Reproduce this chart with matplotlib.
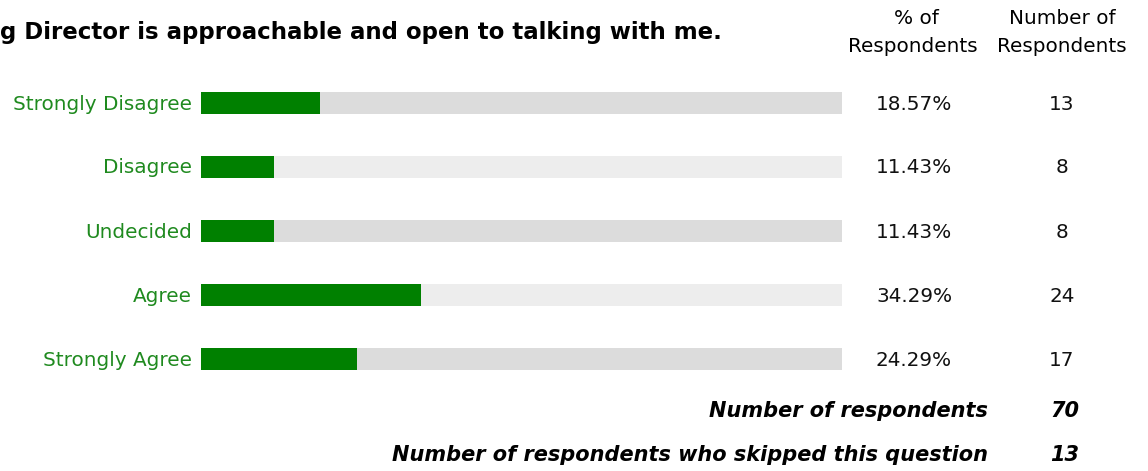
import matplotlib.pyplot as plt
import numpy as np

W, H = 1148, 471

categories = ["Strongly Disagree", "Disagree", "Undecided", "Agree", "Strongly Agree"]
percents = [18.57, 11.43, 11.43, 34.29, 24.29]
counts = [13, 8, 8, 24, 17]
total_respondents = 70
skipped = 13
title = "g Director is approachable and open to talking with me."

GREEN = "#008000"
LABEL_GREEN = "#1f8a1f"
BG_DARK = "#dcdcdc"
BG_LIGHT = "#ededed"


def fx(px):
    return px / W


def fy(py):
    return 1 - py / H


fig = plt.figure(figsize=(W / 100, H / 100), dpi=100)
plt.rcParams['font.family'] = ['DejaVu Sans']

# bar area: x 201..842 px, rows centred 103..359 px
ax = fig.add_axes([fx(201), fy(391), fx(842) - fx(201), fy(71) - fy(391)])
ypos = np.arange(len(categories))
bg_colors = [BG_DARK if i % 2 == 0 else BG_LIGHT for i in range(len(categories))]
ax.barh(ypos, [100] * len(categories), height=0.35, color=bg_colors, linewidth=0)
ax.barh(ypos, percents, height=0.35, color=GREEN, linewidth=0)
ax.set_xlim(0, 100)
ax.set_ylim(len(categories) - 0.5, -0.5)
ax.axis("off")

FS = 14.4
for i, (cat, p, c) in enumerate(zip(categories, percents, counts)):
    y = fy(104 + 64 * i)
    fig.text(fx(192), y, cat, ha="right", va="center", color=LABEL_GREEN, fontsize=FS)
    fig.text(fx(914), y, f"{p:.2f}%", ha="center", va="center", color="#111111", fontsize=FS)
    fig.text(fx(1062), y, str(c), ha="center", va="center", color="#111111", fontsize=FS)

# headers
fig.text(fx(0), fy(33), title, ha="left", va="center", fontsize=16.5, fontweight="bold")
fig.text(fx(916), fy(18), "% of", ha="center", va="center", fontsize=FS)
fig.text(fx(913), fy(46), "Respondents", ha="center", va="center", fontsize=FS)
fig.text(fx(1062), fy(18), "Number of", ha="center", va="center", fontsize=FS)
fig.text(fx(1062), fy(46), "Respondents", ha="center", va="center", fontsize=FS)

# footer
FFS = 15
fig.text(fx(988), fy(411), "Number of respondents", ha="right", va="center",
         fontsize=FFS, fontweight="bold", fontstyle="italic")
fig.text(fx(1065), fy(411), str(total_respondents), ha="center", va="center",
         fontsize=FFS, fontweight="bold", fontstyle="italic")
fig.text(fx(988), fy(455), "Number of respondents who skipped this question", ha="right",
         va="center", fontsize=FFS, fontweight="bold", fontstyle="italic")
fig.text(fx(1065), fy(455), str(skipped), ha="center", va="center",
         fontsize=FFS, fontweight="bold", fontstyle="italic")

fig.savefig("out.png", dpi=100, facecolor="white")
